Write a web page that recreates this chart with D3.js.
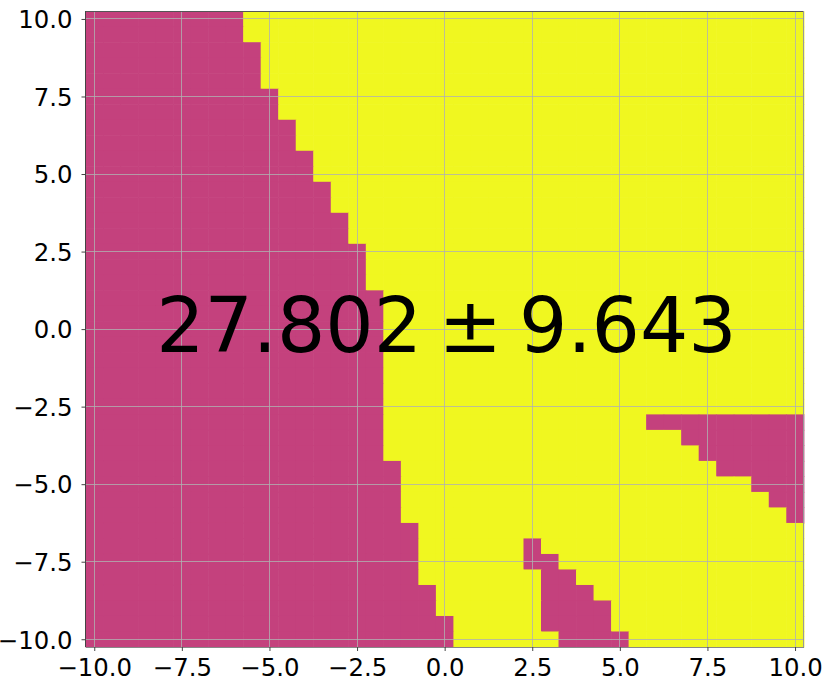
<!doctype html>
<html lang="en">

<head>
  <meta charset="utf-8">
  <title>Decision map</title>
  <script src="https://cdn.jsdelivr.net/npm/d3@7"></script>
  <style>
    body { margin: 0; background: #fff; }
    text { font-family: "DejaVu Sans", sans-serif; }
  </style>
</head>

<body>
  <div id="my_dataviz"></div>

  <script>
    // grid cell centres (step 0.5)
    var gridX = [-10, -9.5, -9, -8.5, -8, -7.5, -7, -6.5, -6, -5.5, -5, -4.5, -4, -3.5, -3, -2.5, -2, -1.5, -1, -0.5,
      0, 0.5, 1, 1.5, 2, 2.5, 3, 3.5, 4, 4.5, 5, 5.5, 6, 6.5, 7, 7.5, 8, 8.5, 9, 9.5, 10];
    var gridY = [10, 9.5, 9, 8.5, 8, 7.5, 7, 6.5, 6, 5.5, 5, 4.5, 4, 3.5, 3, 2.5, 2, 1.5, 1, 0.5,
      0, -0.5, -1, -1.5, -2, -2.5, -3, -3.5, -4, -4.5, -5, -5.5, -6, -6.5, -7, -7.5, -8, -8.5, -9, -9.5, -10];

    // last x of the left class-0 region, one value per row of gridY
    var leftEdge = [-6, -6, -5.5, -5.5, -5.5, -5, -5, -4.5, -4.5, -4, -4, -3.5, -3.5, -3, -3, -2.5, -2.5, -2.5,
      -2, -2, -2, -2, -2, -2, -2, -2, -2, -2, -2, -1.5, -1.5, -1.5, -1.5, -1, -1, -1, -1, -0.5, -0.5, 0, 0];

    // other class-0 patches: [y, x from, x to]
    var bottomPatch = [[-7, 2.5, 2.5], [-7.5, 2.5, 3], [-8, 3, 3.5], [-8.5, 3, 4], [-9, 3, 4.5], [-9.5, 3, 4.5], [-10, 3.5, 5]];
    var rightPatch = [[-3, 6, 10], [-3.5, 7, 10], [-4, 7.5, 10], [-4.5, 8, 10], [-5, 9, 10], [-5.5, 9.5, 10], [-6, 10, 10]];

    var ticks = [-10, -7.5, -5, -2.5, 0, 2.5, 5, 7.5, 10];
    var score = "27.802", spread = "9.643";

    var W = 830, H = 690;
    var x = d3.scaleLinear().domain([-10.25, 10.25]).range([85.5, 803.8]);
    var y = d3.scaleLinear().domain([-10.25, 10.25]).range([647, 11.2]);

    var svg = d3.select("#my_dataviz").append("svg")
      .attr("width", W).attr("height", H);

    // build the cells
    var cells = [];
    gridY.forEach(function (gy, i) {
      gridX.forEach(function (gx) {
        var c = gx <= leftEdge[i] ? 0 : 1;
        bottomPatch.concat(rightPatch).forEach(function (p) {
          if (p[0] === gy && gx >= p[1] && gx <= p[2]) c = 0;
        });
        cells.push({ x: gx, y: gy, c: c });
      });
    });

    var colour = ["#c4417d", "#f0f720"];

    svg.append("g")
      .selectAll("rect")
      .data(cells)
      .enter()
      .append("rect")
      .attr("x", function (d) { return x(d.x - 0.25); })
      .attr("y", function (d) { return y(d.y + 0.25); })
      .attr("width", function (d) { return x(d.x + 0.25) - x(d.x - 0.25) + 0.6; })
      .attr("height", function (d) { return y(d.y - 0.25) - y(d.y + 0.25) + 0.6; })
      .style("fill", function (d) { return colour[d.c]; });

    // grid lines
    var grid = svg.append("g")
      .attr("stroke", "#b0b0b0")
      .attr("stroke-opacity", 0.8)
      .attr("stroke-width", 1)
      .attr("shape-rendering", "crispEdges");
    grid.selectAll(".gx").data(ticks).enter().append("line")
      .attr("x1", function (d) { return x(d); }).attr("x2", function (d) { return x(d); })
      .attr("y1", y(-10.25)).attr("y2", y(10.25));
    grid.selectAll(".gy").data(ticks).enter().append("line")
      .attr("y1", function (d) { return y(d); }).attr("y2", function (d) { return y(d); })
      .attr("x1", x(-10.25)).attr("x2", x(10.25));

    // spines
    var sp = svg.append("g").attr("shape-rendering", "crispEdges").attr("stroke-width", 1);
    sp.append("line").attr("x1", x(-10.25)).attr("x2", x(-10.25)).attr("y1", y(-10.25)).attr("y2", y(10.25)).attr("stroke", "#444");
    sp.append("line").attr("x1", x(-10.25)).attr("x2", x(10.25)).attr("y1", y(10.25)).attr("y2", y(10.25)).attr("stroke", "#555");
    sp.append("line").attr("x1", x(10.25)).attr("x2", x(10.25)).attr("y1", y(-10.25)).attr("y2", y(10.25)).attr("stroke", "#999");
    sp.append("line").attr("x1", x(-10.25)).attr("x2", x(10.25)).attr("y1", y(-10.25)).attr("y2", y(-10.25)).attr("stroke", "#888");

    // axes
    var xAxis = svg.append("g")
      .attr("transform", "translate(0," + y(-10.25) + ")")
      .call(d3.axisBottom(x).tickValues(ticks).tickFormat(d3.format(".1f")).tickSize(4).tickPadding(6));
    var yAxis = svg.append("g")
      .attr("transform", "translate(" + x(-10.25) + ",0)")
      .call(d3.axisLeft(y).tickValues(ticks).tickFormat(d3.format(".1f")).tickSize(4).tickPadding(9));
    [xAxis, yAxis].forEach(function (a) {
      a.select(".domain").remove();
      a.selectAll("line").attr("stroke", "#444");
      a.selectAll("text")
        .style("font-family", "DejaVu Sans")
        .style("font-size", "24.4px")
        .attr("fill", "#000");
    });
    xAxis.selectAll("text").attr("dy", "0.78em");
    yAxis.selectAll("text").attr("dy", "0.36em");

    // score label
    var lab = svg.append("g")
      .attr("transform", "translate(" + x(0) + ",351.5)")
      .style("font-family", "DejaVu Sans")
      .style("font-size", "76px")
      .attr("fill", "#000");
    lab.append("text").attr("x", -288.5).text(score);
    lab.append("text").attr("x", 25.8).attr("text-anchor", "middle").text("\u00b1");
    lab.append("text").attr("x", 74.4).text(spread);
  </script>
</body>

</html>
